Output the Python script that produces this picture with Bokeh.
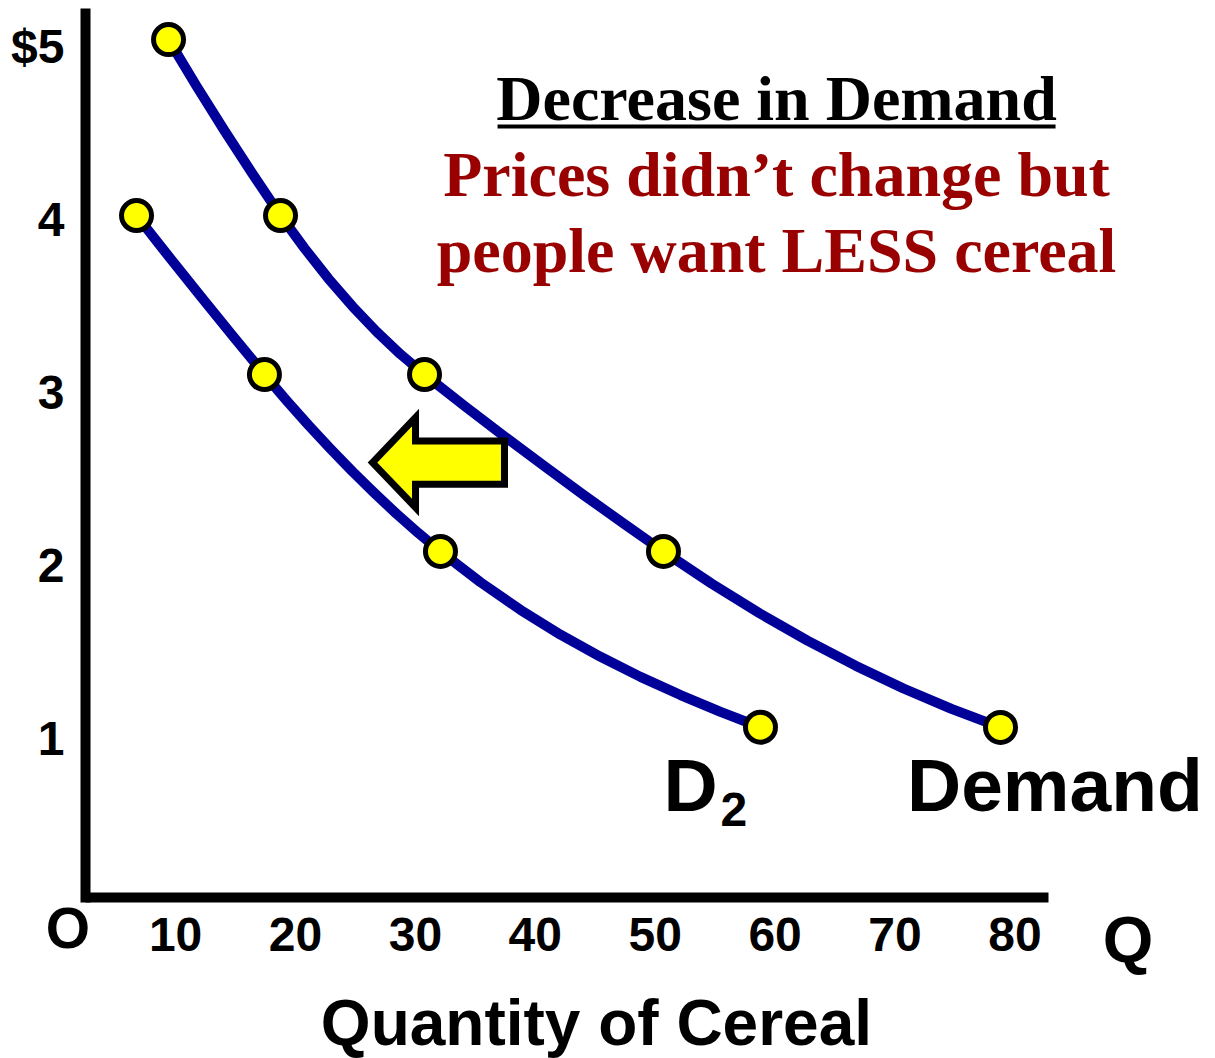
from bokeh.plotting import figure
from bokeh.models import Label, FixedTicker, Range1d, ColumnDataSource
from bokeh.embed import file_html
from bokeh.resources import INLINE

# ---------------- data ----------------
q_ticks = [10, 20, 30, 40, 50, 60, 70, 80]
p_ticks = [1, 2, 3, 4, 5]
p_tick_labels = ["1", "2", "3", "4", "$5"]

# marked points on the original Demand curve
demand_q = [9.41, 18.75, 30.76, 50.69, 78.80]
demand_p = [5.04, 4.023, 3.104, 2.081, 1.064]
# traced Demand curve
demand_curve_q = [9.41, 11.74, 14.08, 16.41, 18.75, 20.75, 22.75, 24.75, 26.76, 28.76,
                  30.76, 34.09, 37.43, 40.77, 44.10, 47.44, 50.69, 54.69, 58.70,
                  62.70, 66.71, 70.71, 74.71, 78.80]
demand_curve_p = [5.040, 4.772, 4.513, 4.264, 4.023, 3.834, 3.658, 3.498, 3.352, 3.221,
                  3.104, 2.923, 2.746, 2.573, 2.404, 2.239, 2.081, 1.896, 1.724,
                  1.566, 1.421, 1.289, 1.171, 1.064]

# marked points on the new curve D2
d2_q = [6.74, 17.41, 32.09, 58.78]
d2_p = [4.023, 3.104, 2.081, 1.065]
# traced D2 curve
d2_curve_q = [6.74, 9.41, 12.08, 14.75, 17.41, 19.25, 21.08, 22.92, 24.75, 26.59,
              28.42, 30.26, 32.09, 35.43, 38.77, 42.10, 45.44, 48.77, 52.11, 55.45, 58.78]
d2_curve_p = [4.023, 3.788, 3.557, 3.329, 3.104, 2.954, 2.811, 2.674, 2.543, 2.418,
              2.299, 2.187, 2.081, 1.903, 1.743, 1.600, 1.472, 1.356, 1.251, 1.154, 1.065]

title_text = "Decrease in Demand"
note_lines = ["Prices didn\u2019t change but", "people want LESS cereal"]
x_title = "Quantity of Cereal"

# ---------------- styles ----------------
NAVY = "#000099"
YELLOW = "#ffff00"
RED = "#990000"
SANS = "Liberation Sans"
SERIF = "Liberation Serif"

p = figure(width=1215, height=1058,
           x_range=Range1d(-4.604, 96.73), y_range=Range1d(-0.850, 5.266),
           output_backend="svg", toolbar_location=None, title=None)
p.min_border = 0
p.min_border_left = 0
p.min_border_right = 0
p.min_border_top = 0
p.min_border_bottom = 0
p.outline_line_color = None
p.xgrid.visible = False
p.ygrid.visible = False
p.background_fill_color = "white"
p.border_fill_color = "white"

for ax in (p.xaxis[0], p.yaxis[0]):
    ax.axis_line_width = 10
    ax.axis_line_color = "black"
    ax.major_tick_line_color = None
    ax.minor_tick_line_color = None
    ax.major_label_text_font = SANS
    ax.major_label_text_font_style = "bold"
    ax.major_label_text_font_size = "48px"
    ax.major_label_text_color = "black"

p.xaxis.ticker = FixedTicker(ticks=q_ticks)
p.xaxis.fixed_location = 0.078
p.xaxis.bounds = (2.485, 82.8)
p.xaxis.major_label_standoff = 14
p.yaxis.ticker = FixedTicker(ticks=p_ticks)
p.yaxis.major_label_overrides = {t: lab for t, lab in zip(p_ticks, p_tick_labels)}
p.yaxis.fixed_location = 2.485
p.yaxis.bounds = (0.078, 5.19)
p.yaxis.major_label_standoff = 15
p.yaxis.axis_line_cap = "square"

# curves
p.line(demand_curve_q, demand_curve_p, line_color=NAVY, line_width=10, line_join="round")
p.line(d2_curve_q, d2_curve_p, line_color=NAVY, line_width=10, line_join="round")

# points
src_pts = ColumnDataSource(dict(q=demand_q + d2_q, pr=demand_p + d2_p))
p.scatter("q", "pr", source=src_pts, size=30, fill_color=YELLOW,
          line_color="black", line_width=5)

# shift arrow (pointing left), tip/size in data units
tip_x, tip_y = 26.42, 2.595
head_len, body_len = 3.59, 7.42
head_half, body_half = 0.26, 0.125
ax_ = [tip_x, tip_x + head_len, tip_x + head_len, tip_x + head_len + body_len,
       tip_x + head_len + body_len, tip_x + head_len, tip_x + head_len]
ay_ = [tip_y, tip_y + head_half, tip_y + body_half, tip_y + body_half,
       tip_y - body_half, tip_y - body_half, tip_y - head_half]
p.patch(ax_, ay_, fill_color=YELLOW, line_color="black", line_width=7, line_join="miter")


def label(x, y, text, size, font=SANS, color="black", align="left"):
    p.add_layout(Label(x=x, y=y, text=text, text_align=align, text_baseline="middle",
                       text_font=font, text_font_style="bold", text_font_size=size,
                       text_color=color))


# title + note
label(60.12, 4.697, title_text, "64px", font=SERIF, align="center")
p.segment(x0=[36.85], y0=[4.538], x1=[83.39], y1=[4.538], line_color="black", line_width=4)
for i, line in enumerate(note_lines):
    label(60.12, 4.258 - 0.44 * i, line, "64px", font=SERIF, color=RED, align="center")

# curve names
label(50.7, 0.732, "D", "75px")
label(55.45, 0.587, "2", "48px")
label(71.0, 0.732, "Demand", "75px")

# origin, Q, axis title
label(1.02, -0.098, "O", "57px", align="center")
label(89.43, -0.162, "Q", "65px", align="center")
label(45.1, -0.647, x_title, "64px", align="center")

open("out.html", "w").write(file_html(p, INLINE))
